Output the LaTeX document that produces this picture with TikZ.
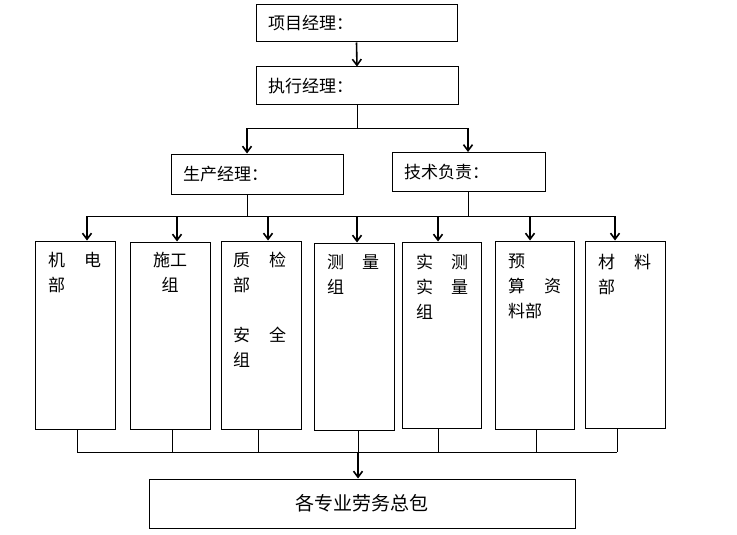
\documentclass[tikz,border=0pt]{standalone}
\usepackage{fontspec}
\newfontfamily\cjk{Noto Sans CJK SC}
\usetikzlibrary{arrows.meta}
\usetikzlibrary{calc}

\newcommand{\twochar}[2]{\makebox[36pt][l]{#1}#2}

\tikzset{
    box/.style={draw, line width=1pt, inner sep=0pt},
    toptext/.style={box, align=left, inner xsep=12pt},
    word/.style={inner sep=0pt, align=left, anchor=north west},
    link/.style={line width=1pt},
    arrow/.style={line width=1.6pt, -{Straight Barb[length=6pt,width=9pt]}}
}

\begin{document}
\begin{tikzpicture}[x=1pt, y=-1pt, font=\cjk\fontsize{17}{25}\selectfont]
        \useasboundingbox (0,0) rectangle (737,535);

        % Top: managers
        \node[toptext, text width=177pt, minimum height=37pt] (pm) at (356.5,23.5) {项目经理：};
        \node[toptext, text width=178pt, minimum height=38pt] (em) at (357,86) {执行经理：};
        \node[toptext, text width=148pt, minimum height=40pt] (prod) at (257,174) {生产经理：};
        \node[toptext, text width=129pt, minimum height=39pt] (tech) at (468.5,172) {技术负责：};

        \draw[arrow] (pm.south) -- (em.north);

        % Split to production and technical
        \coordinate (split) at (357,128);
        \coordinate (splitL) at (247,128);
        \coordinate (splitR) at (468,128);
        \draw[link] (em.south) -- (split);
        \draw[link] (splitL) -- (splitR);
        \draw[arrow] (splitL) -- (splitL |- prod.north);
        \draw[arrow] (splitR) -- (splitR |- tech.north);

        % Departments
        \node[box, minimum width=80pt, minimum height=188pt] (jd) at (75,335) {};
        \node[box, minimum width=80pt, minimum height=187pt] (sg) at (170,335.5) {};
        \node[box, minimum width=80pt, minimum height=188pt] (zj) at (261,335) {};
        \node[box, minimum width=80pt, minimum height=187pt] (cl) at (354,336.5) {};
        \node[box, minimum width=79pt, minimum height=186pt] (sc) at (441.5,335) {};
        \node[box, minimum width=79pt, minimum height=188pt] (ys) at (534.5,335) {};
        \node[box, minimum width=80pt, minimum height=187pt] (cln) at (625,334.5) {};

        % Department texts
        \node[word] (jdt) at (48,252) {\twochar{机}{电}\\部};
        \node[word, align=center, anchor=north] (sgt) at (170,252) {施工\\组};
        \node[word] (zjt) at (233,252) {\twochar{质}{检}\\部\\[25pt]\twochar{安}{全}\\组};
        \node[word] (clt) at (327,254) {\makebox[35pt][l]{测}量\\组};
        \node[word] (sct) at (416,254) {\makebox[35pt][l]{实}测\\\makebox[35pt][l]{实}量\\组};
        \node[word] (yst) at (508,254) {预\\\twochar{算}{资}\\料部};
        \node[word] (clnt) at (598,254) {\twochar{材}{料}\\部};

        % Bus from managers to departments
        \coordinate (busL) at (87,216);
        \coordinate (busR) at (615,216);
        \draw[link] (splitL |- prod.south) -- (splitL |- busL);
        \draw[link] (splitR |- tech.south) -- (splitR |- busL);
        \draw[link] (busL) -- (busR);
        \draw[arrow] (87,216) -- (87,0 |- jd.north);
        \draw[arrow] (177,216) -- (177,0 |- sg.north);
        \draw[arrow] (268,216) -- (268,0 |- zj.north);
        \draw[arrow] (357,216) -- (357,0 |- cl.north);
        \draw[arrow] (438,216) -- (438,0 |- sc.north);
        \draw[arrow] (530,216) -- (530,0 |- ys.north);
        \draw[arrow] (615,216) -- (615,0 |- cln.north);

        % Bottom: labour subcontract
        \node[box, minimum width=426pt, minimum height=49pt, font=\cjk\fontsize{19}{20}\selectfont] (lab) at (362,503.5) {各专业劳务总包};

        \coordinate (joinL) at (77,452);
        \coordinate (joinR) at (617,452);
        \coordinate (join) at (358,452);
        \draw[link] (77,0 |- jd.south) -- (joinL);
        \draw[link] (172,0 |- sg.south) -- (172,452);
        \draw[link] (258,0 |- zj.south) -- (258,452);
        \draw[link] (358,0 |- cl.south) -- (join);
        \draw[link] (438,0 |- sc.south) -- (438,452);
        \draw[link] (536,0 |- ys.south) -- (536,452);
        \draw[link] (617,0 |- cln.south) -- (joinR);
        \draw[link] (joinL) -- (joinR);
        \draw[arrow] (join) -- (join |- lab.north);

    \end{tikzpicture}
\end{document}
